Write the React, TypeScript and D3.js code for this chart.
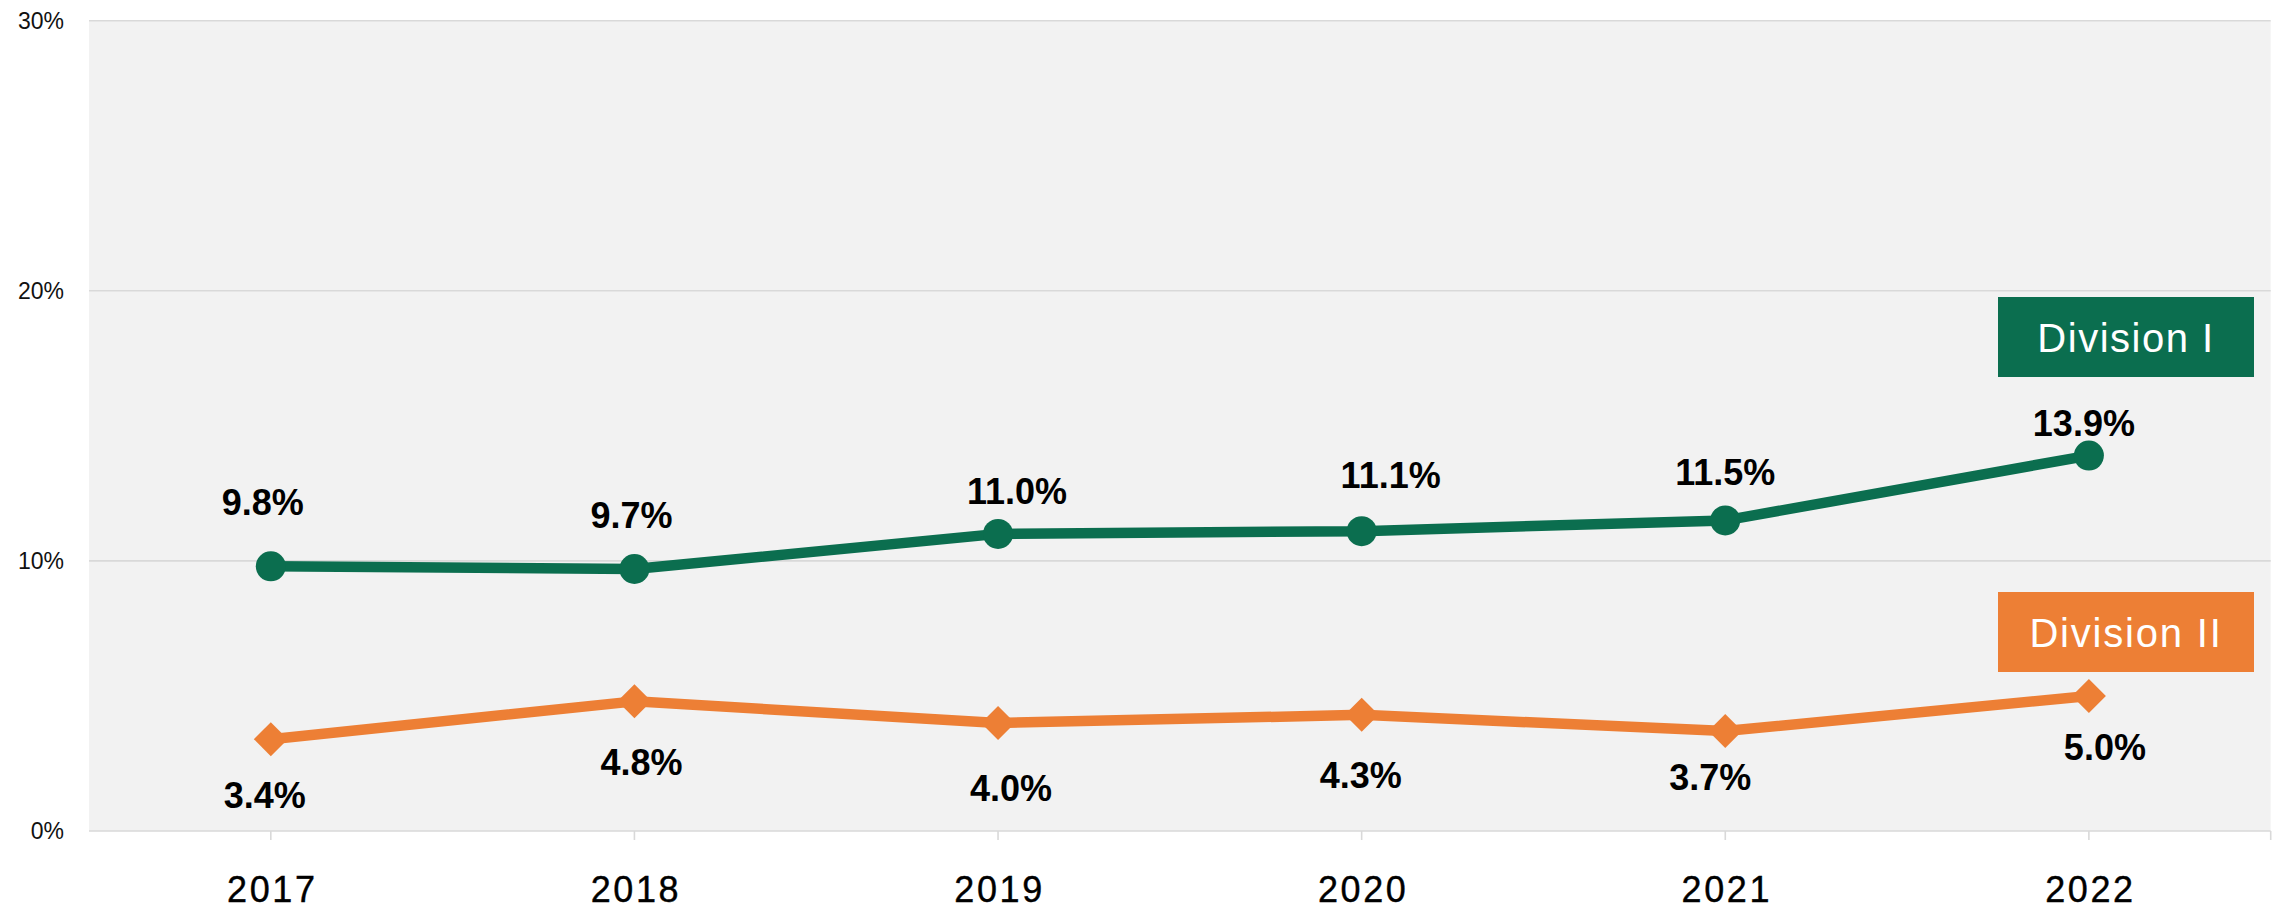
import { useEffect, useRef } from "react";
import * as d3 from "d3";

const years = ["2017", "2018", "2019", "2020", "2021", "2022"];
const divisionI = [9.8, 9.7, 11.0, 11.1, 11.5, 13.9];
const divisionII = [3.4, 4.8, 4.0, 4.3, 3.7, 5.0];
const yTicks = [0, 10, 20, 30];
const seriesNames = ["Division I", "Division II"];

// data labels were nudged by hand in the original, [dx, dy of baseline]
const nudgeI = [[-8, -51], [-3, -41], [19, -30], [29, -43], [0, -35], [-5, -20]];
const nudgeII = [[-6, 69], [7, 74], [13, 78], [-1, 73], [-15, 59], [16, 64]];

const GREEN = "#0b6e4f";
const ORANGE = "#ed7f35";
const GRID = "#d9d9d9";
const FONT = "'Liberation Sans', Arial, sans-serif";

export default function App() {
  const svgRef = useRef<SVGSVGElement>(null);

  useEffect(() => {
    if (!svgRef.current) return;
    const W = 2282;
    const H = 908;
    const left = 89, right = 2270.7, top = 20.7, bottom = 831;

    const root = d3.select(svgRef.current);
    root.selectAll("*").remove();
    root.attr("viewBox", `0 0 ${W} ${H}`).attr("width", W).attr("height", H);

    const x = d3.scaleBand<string>().domain(years).range([left, right]).padding(0);
    const cx = (d: string) => (x(d) ?? 0) + x.bandwidth() / 2;
    const y = d3.scaleLinear().domain([0, 30]).range([bottom, top]);

    root.append("rect").attr("width", W).attr("height", H).attr("fill", "#ffffff");

    // plot area
    root.append("rect")
      .attr("x", left).attr("y", top)
      .attr("width", right - left).attr("height", bottom - top)
      .attr("fill", "#f2f2f2");

    // gridlines + y labels
    root.selectAll(".grid")
      .data(yTicks)
      .enter()
      .append("line")
      .attr("x1", left).attr("x2", right)
      .attr("y1", d => y(d)).attr("y2", d => y(d))
      .attr("stroke", GRID)
      .attr("stroke-width", 1.6);

    root.selectAll(".ylab")
      .data(yTicks)
      .enter()
      .append("text")
      .attr("x", 64)
      .attr("y", d => y(d) + 8.3)
      .attr("text-anchor", "end")
      .attr("font-family", FONT)
      .attr("font-size", 23)
      .attr("fill", "#111")
      .text(d => `${d}%`);

    // x ticks (category centres + right end)
    const tickXs = [...years.map(cx), right];
    root.selectAll(".xtick")
      .data(tickXs)
      .enter()
      .append("line")
      .attr("x1", d => d).attr("x2", d => d)
      .attr("y1", bottom).attr("y2", bottom + 9)
      .attr("stroke", GRID)
      .attr("stroke-width", 1.6);

    root.selectAll(".xlab")
      .data(years)
      .enter()
      .append("text")
      .attr("x", d => cx(d) + 1.5)
      .attr("y", 901.5)
      .attr("text-anchor", "middle")
      .attr("font-family", FONT)
      .attr("font-size", 36)
      .attr("letter-spacing", 2.6)
      .attr("stroke", "#000")
      .attr("stroke-width", 0.4)
      .attr("fill", "#000")
      .text(d => d);

    const series = [
      { name: seriesNames[0], values: divisionI, color: GREEN, nudge: nudgeI, marker: "circle" },
      { name: seriesNames[1], values: divisionII, color: ORANGE, nudge: nudgeII, marker: "diamond" },
    ];

    const line = d3.line<number>()
      .x((_, i) => cx(years[i]))
      .y(d => y(d));

    series.forEach(s => {
      root.append("path")
        .attr("d", line(s.values))
        .attr("fill", "none")
        .attr("stroke", s.color)
        .attr("stroke-width", 10.5)
        .attr("stroke-linejoin", "round");

      if (s.marker === "circle") {
        root.selectAll(null)
          .data(s.values)
          .enter()
          .append("circle")
          .attr("cx", (_, i) => cx(years[i]))
          .attr("cy", d => y(d))
          .attr("r", 15)
          .attr("fill", s.color);
      } else {
        const diamond = d3.symbol().type(d3.symbolSquare).size(2 * 17 * 17)();
        root.selectAll(null)
          .data(s.values)
          .enter()
          .append("path")
          .attr("d", diamond)
          .attr("transform", (d, i) => `translate(${cx(years[i])},${y(d)}) rotate(45)`)
          .attr("fill", s.color);
      }

      root.selectAll(null)
        .data(s.values)
        .enter()
        .append("text")
        .attr("x", (_, i) => cx(years[i]) + s.nudge[i][0])
        .attr("y", (d, i) => y(d) + s.nudge[i][1])
        .attr("text-anchor", "middle")
        .attr("font-family", FONT)
        .attr("font-weight", "bold")
        .attr("font-size", 36)
        .attr("fill", "#000")
        .text(d => `${d.toFixed(1)}%`);
    });

    // legend boxes, placed at the right of the plot
    const boxes = [
      { name: seriesNames[0], color: GREEN, y0: 297, spacing: 1.5 },
      { name: seriesNames[1], color: ORANGE, y0: 592, spacing: 1.8 },
    ];
    boxes.forEach(b => {
      root.append("rect")
        .attr("x", 1998).attr("y", b.y0)
        .attr("width", 256).attr("height", 80)
        .attr("fill", b.color);
      root.append("text")
        .attr("x", 2126).attr("y", b.y0 + 55)
        .attr("text-anchor", "middle")
        .attr("font-family", FONT)
        .attr("font-size", 40)
        .attr("letter-spacing", b.spacing)
        .attr("fill", "#ffffff")
        .text(b.name);
    });
  }, []);

  return (
    <div style={{ position: "absolute", left: 0, top: 0 }}>
      <svg ref={svgRef} style={{ display: "block" }} />
    </div>
  );
}
